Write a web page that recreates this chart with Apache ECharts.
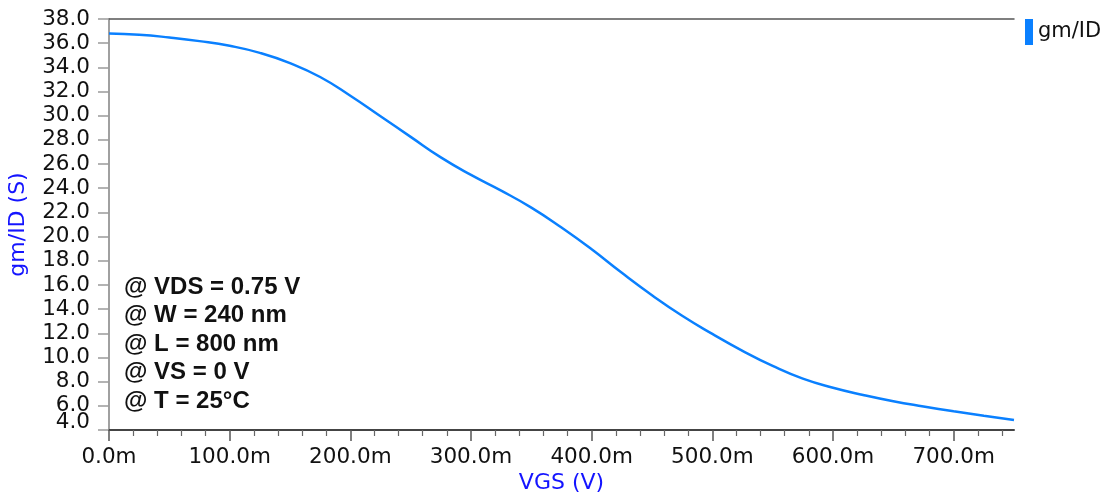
<!DOCTYPE html>
<html>
<head>
<meta charset="utf-8">
<script src="https://cdn.jsdelivr.net/npm/echarts@6/dist/echarts.min.js"></script>
<style>
html,body{margin:0;padding:0;background:#fff;}
#chart{width:1110px;height:493px;}
</style>
</head>
<body>
<div id="chart"></div>
<script>
// VGS in mV ("m" units), gm/ID values
const vgs = [0, 25, 50, 75, 100, 125, 150, 175, 200, 225, 250, 275, 300, 325, 350, 375, 400, 425, 450, 475, 500, 525, 550, 575, 600, 625, 650, 675, 700, 725, 750];
const gmid = [36.8, 36.7, 36.47, 36.17, 35.78, 35.2, 34.35, 33.2, 31.65, 29.95, 28.25, 26.55, 25.1, 23.8, 22.4, 20.75, 18.95, 17.0, 15.15, 13.45, 11.95, 10.55, 9.3, 8.25, 7.5, 6.9, 6.38, 5.95, 5.55, 5.18, 4.83];
const xMajorTicks = [0, 100, 200, 300, 400, 500, 600, 700];
const xMinorTicks = [20, 40, 60, 80, 120, 140, 160, 180, 220, 240, 260, 280, 320, 340, 360, 380, 420, 440, 460, 480, 520, 540, 560, 580, 620, 640, 660, 680, 720, 740];
const yLabelValues = [6, 8, 10, 12, 14, 16, 18, 20, 22, 24, 26, 28, 30, 32, 34, 36, 38];
const yBottomLabel = [4];
const seriesName = 'gm/ID';
const xTitle = 'VGS (V)';
const yTitle = 'gm/ID (S)';
const notes = ['@ VDS = 0.75 V', '@ W = 240 nm', '@ L = 800 nm', '@ VS = 0 V', '@ T = 25°C'];

const chart = echarts.init(document.getElementById('chart'));
const font = 'DejaVu Sans';
const titleBlue = '#1414ff';
const lineBlue = '#0a80ff';
const fmtY = v => v.toFixed(1);

chart.setOption({
  animation: false,
  backgroundColor: '#ffffff',
  grid: { left: 109, right: 96, top: 19, bottom: 63, containLabel: false, outerBoundsMode: 'none' },
  legend: {
    data: [seriesName],
    left: 1020, top: 14,
    icon: 'rect', itemWidth: 8, itemHeight: 26, itemGap: 5,
    textStyle: { fontFamily: font, fontSize: 21, color: '#111', padding: [0, 0, 0, 0] }
  },
  xAxis: [
    {
      type: 'value', min: 0, max: 750, position: 'bottom',
      name: xTitle, nameLocation: 'middle', nameGap: 42, nameMoveOverlap: false,
      nameTextStyle: { color: titleBlue, fontFamily: font, fontSize: 22 },
      axisLine: { show: true, onZero: false, lineStyle: { color: '#444', width: 2 } },
      axisTick: { show: true, customValues: xMajorTicks, length: 11, lineStyle: { color: '#555', width: 1.5 } },
      axisLabel: { customValues: xMajorTicks, formatter: v => v.toFixed(1) + 'm', fontFamily: font, fontSize: 21.5, color: '#111', margin: 16 },
      splitLine: { show: false }
    },
    {
      type: 'value', min: 0, max: 750, position: 'bottom',
      axisLine: { show: false, onZero: false },
      axisTick: { show: true, customValues: xMinorTicks, length: 6, lineStyle: { color: '#666', width: 1.2 } },
      axisLabel: { show: false },
      splitLine: { show: false }
    },
    {
      type: 'value', min: 0, max: 750, position: 'top',
      axisLine: { show: true, onZero: false, lineStyle: { color: '#555', width: 1.5 } },
      axisTick: { show: false }, axisLabel: { show: false }, splitLine: { show: false }
    }
  ],
  yAxis: [
    {
      type: 'value', min: 4, max: 38, interval: 2, position: 'left',
      name: yTitle, nameLocation: 'middle', nameGap: 80, nameRotate: 90, nameMoveOverlap: false,
      nameTextStyle: { color: titleBlue, fontFamily: font, fontSize: 22 },
      axisLine: { show: true, onZero: false, lineStyle: { color: '#a0a0a0', width: 2 } },
      axisTick: { show: true, length: 11, lineStyle: { color: '#9a9a9a', width: 1.5 } },
      axisLabel: {
        customValues: yLabelValues, formatter: fmtY,
        fontFamily: font, fontSize: 21.5, color: '#111', margin: 19,
        showMinLabel: true, showMaxLabel: true, hideOverlap: false
      },
      splitLine: { show: false }
    },
    {
      type: 'value', min: 4, max: 38, interval: 2, position: 'left',
      axisLine: { show: false, onZero: false },
      axisTick: { show: false },
      axisLabel: {
        customValues: yBottomLabel, formatter: v => '{low|' + fmtY(v) + '}',
        fontFamily: font, fontSize: 21.5, color: '#111', margin: 19,
        showMinLabel: true, hideOverlap: false,
        rich: { low: { fontFamily: font, fontSize: 21.5, color: '#111', padding: [0, 0, 16, 0] } }
      },
      splitLine: { show: false }
    }
  ],
  series: [{
    name: seriesName, type: 'line', xAxisIndex: 0, yAxisIndex: 0,
    data: vgs.map((x, i) => [x, gmid[i]]),
    smooth: 0.5, showSymbol: false, symbol: 'none',
    lineStyle: { color: lineBlue, width: 2.5 }, itemStyle: { color: lineBlue }
  }],
  graphic: [{
    type: 'text', left: 124, top: 273,
    style: {
      text: notes.join('\n'),
      fontFamily: 'Liberation Sans', fontWeight: 'bold', fontSize: 24,
      lineHeight: 28.5, fill: '#111'
    }
  }]
});
</script>
</body>
</html>
